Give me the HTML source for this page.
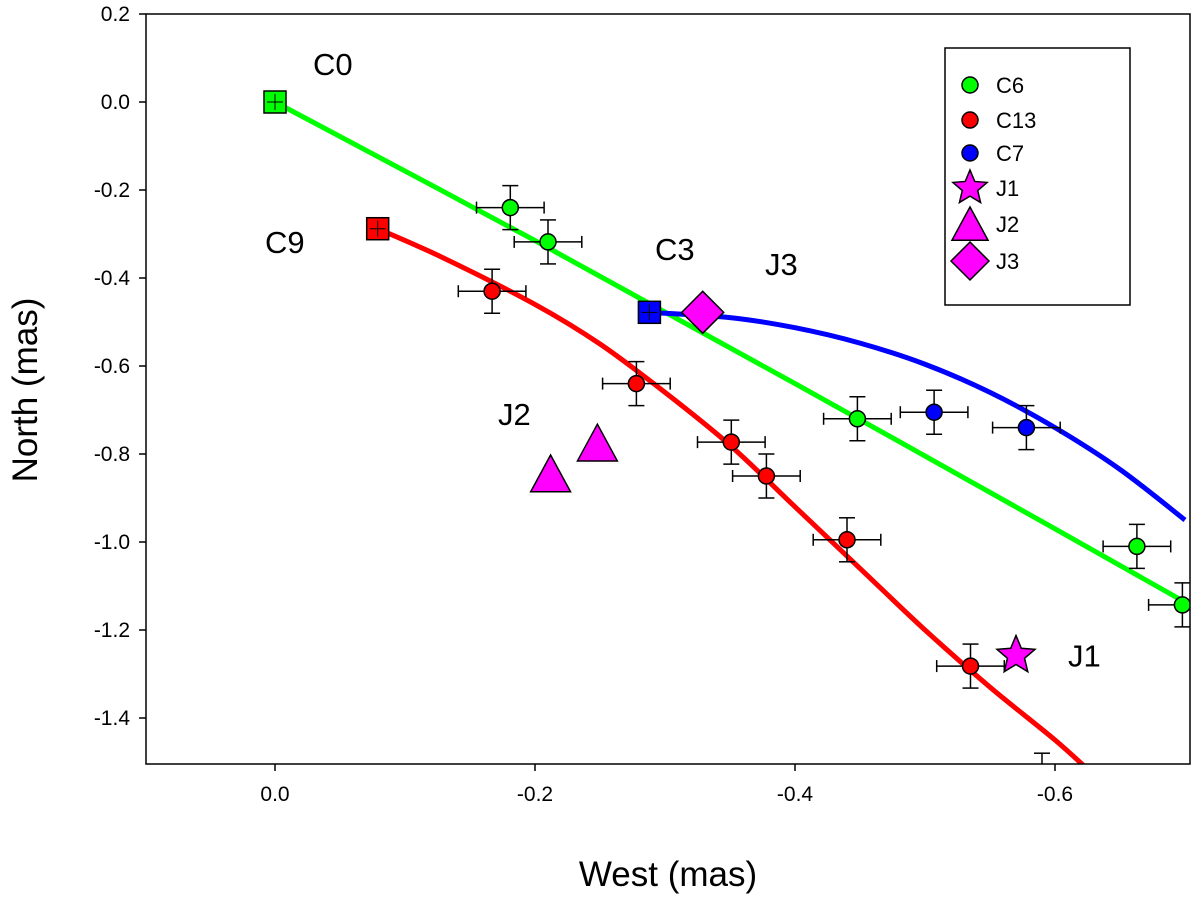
<!DOCTYPE html>
<html><head><meta charset="utf-8"><style>
body{margin:0;background:#fff;}
svg{display:block;font-family:"Liberation Sans",Arial,sans-serif;}
</style></head><body>
<svg id="chart" width="1200" height="897" viewBox="0 0 1200 897" xmlns="http://www.w3.org/2000/svg"></svg>
<script>
const xTicks=[0.0,-0.2,-0.4,-0.6];
const xTickLabels=["0.0","-0.2","-0.4","-0.6"];
const yTicks=[0.2,0.0,-0.2,-0.4,-0.6,-0.8,-1.0,-1.2,-1.4];
const yTickLabels=["0.2","0.0","-0.2","-0.4","-0.6","-0.8","-1.0","-1.2","-1.4"];
const c6X=[-0.181,-0.21,-0.448,-0.663,-0.698];
const c6Y=[-0.24,-0.318,-0.72,-1.01,-1.143];
const c13X=[-0.167,-0.278,-0.351,-0.378,-0.44,-0.535,-0.59];
const c13Y=[-0.43,-0.64,-0.773,-0.85,-0.995,-1.282,-1.53];
const c7X=[-0.507,-0.578];
const c7Y=[-0.705,-0.74];
const c0=[0,0], c9=[-0.079,-0.288], c3=[-0.288,-0.478];
const j1=[-0.57,-1.258];
const j2X=[-0.212,-0.248]; const j2Y=[-0.85,-0.78];
const j3=[-0.329,-0.478];
const greenCurveX=[0,-0.2,-0.4,-0.6,-0.72];
const greenCurveY=[0,-0.315,-0.64,-0.97,-1.17];
const redCurveX=[-0.079,-0.13,-0.2,-0.25,-0.3,-0.35,-0.4,-0.45,-0.5,-0.55,-0.6,-0.63];
const redCurveY=[-0.288,-0.355,-0.46,-0.55,-0.66,-0.78,-0.92,-1.06,-1.2,-1.33,-1.45,-1.53];
const blueCurveX=[-0.288,-0.35,-0.4,-0.45,-0.5,-0.55,-0.6,-0.65,-0.7];
const blueCurveY=[-0.478,-0.49,-0.513,-0.548,-0.596,-0.66,-0.74,-0.835,-0.95];
const xErr=0.026, yErr=0.05;

const L=146,R=1190,T=14,B=764;
const X=v=>275-v*1300;
const Y=v=>102-v*440;
const svg=document.getElementById('chart');
const NS='http://www.w3.org/2000/svg';
function mk(tag,attrs,parent){const e=document.createElementNS(NS,tag);for(const k in attrs)e.setAttribute(k,attrs[k]);(parent||svg).appendChild(e);return e;}
const defs=mk('defs',{});
const cp=mk('clipPath',{id:'clip'},defs);mk('rect',{x:L,y:T,width:R-L,height:B-T},cp);
const plot=mk('g',{'clip-path':'url(#clip)'});



const fr=mk('rect',{x:L,y:T,width:R-L,height:B-T,fill:'none',stroke:'#000','stroke-width':1.5});


xTicks.forEach((v,i)=>{
 mk('line',{x1:X(v),x2:X(v),y1:B,y2:B+7,stroke:'#000','stroke-width':1.5});
 const t=mk('text',{x:X(v),y:B+37,'text-anchor':'middle','font-size':21});t.textContent=xTickLabels[i];
 
 
});
yTicks.forEach((v,i)=>{
 mk('line',{x1:L-7,x2:L,y1:Y(v),y2:Y(v),stroke:'#000','stroke-width':1.5});
 const t=mk('text',{x:L-16,y:Y(v)+7,'text-anchor':'end','font-size':21});t.textContent=yTickLabels[i];
 
 
});
const xt=mk('text',{x:668,y:886,'text-anchor':'middle','font-size':35});xt.textContent='West (mas)';


const yt=mk('text',{x:0,y:0,'text-anchor':'middle','font-size':35,transform:'translate(37,390) rotate(-90)'});yt.textContent='North (mas)';



function curve(xs,ys,col,name){
 const P=xs.map((x,i)=>[X(x),Y(ys[i])]);
 let d='M'+P[0][0]+','+P[0][1];
 for(let i=0;i<P.length-1;i++){
  const p0=P[i-1]||P[i],p1=P[i],p2=P[i+1],p3=P[i+2]||P[i+1];
  const c1=[p1[0]+(p2[0]-p0[0])/6,p1[1]+(p2[1]-p0[1])/6];
  const c2=[p2[0]-(p3[0]-p1[0])/6,p2[1]-(p3[1]-p1[1])/6];
  d+=` C${c1[0]},${c1[1]} ${c2[0]},${c2[1]} ${p2[0]},${p2[1]}`;
 }
 const p=mk('path',{d:d,fill:'none',stroke:col,'stroke-width':5,'stroke-linejoin':'round'},plot);
 
 
}
curve(greenCurveX,greenCurveY,'#00ff00','c6-trajectory');
curve(redCurveX,redCurveY,'#ff0000','c13-trajectory');
curve(blueCurveX,blueCurveY,'#0000ff','c7-trajectory');

function errbar(x,y){
 const g=mk('g',{stroke:'#000','stroke-width':1.5},plot);
 const x1=X(x+xErr),x2=X(x-xErr),y1=Y(y+yErr),y2=Y(y-yErr),cx=X(x),cy=Y(y);
 mk('line',{x1:x1,x2:x2,y1:cy,y2:cy},g);mk('line',{x1:cx,x2:cx,y1:y1,y2:y2},g);
 mk('line',{x1:x1,x2:x1,y1:cy-6,y2:cy+6},g);mk('line',{x1:x2,x2:x2,y1:cy-6,y2:cy+6},g);
 mk('line',{x1:cx-8,x2:cx+8,y1:y1,y2:y1},g);mk('line',{x1:cx-8,x2:cx+8,y1:y2,y2:y2},g);
}
function dot(x,y,col,name){
 const c=mk('circle',{cx:X(x),cy:Y(y),r:8,fill:col,stroke:'#000','stroke-width':1.5},plot);
 
 
}
function sq(x,y,col,name){
 const cx=X(x),cy=Y(y);
 const r=mk('rect',{x:cx-11,y:cy-11,width:22,height:22,fill:col,stroke:'#000','stroke-width':1.5},plot);
 
 
 mk('line',{x1:cx-8,x2:cx+8,y1:cy,y2:cy,stroke:'#000','stroke-width':1},plot);
 mk('line',{x1:cx,x2:cx,y1:cy-8,y2:cy+8,stroke:'#000','stroke-width':1},plot);
}
c6X.forEach((x,i)=>{errbar(x,c6Y[i]);dot(x,c6Y[i],'#00ff00','c6-point');});
c13X.forEach((x,i)=>{errbar(x,c13Y[i]);dot(x,c13Y[i],'#ff0000','c13-point');});
c7X.forEach((x,i)=>{errbar(x,c7Y[i]);dot(x,c7Y[i],'#0000ff','c7-point');});
sq(c0[0],c0[1],'#00ff00','c0-marker');
sq(c9[0],c9[1],'#ff0000','c9-marker');
sq(c3[0],c3[1],'#0000ff','c3-marker');

function star(cx,cy,r,parent,name){
 let pts=[];for(let i=0;i<10;i++){const a=-Math.PI/2+i*Math.PI/5;const rr=i%2?r*0.45:r;pts.push((cx+rr*Math.cos(a))+','+(cy+rr*Math.sin(a)));}
 const p=mk('polygon',{points:pts.join(' '),fill:'#ff00ff',stroke:'#000','stroke-width':1.5},parent);
 
 
}
function tri(cx,cy,r,parent,name){
 const p=mk('polygon',{points:`${cx},${cy-r} ${cx+r*0.95},${cy+r*0.75} ${cx-r*0.95},${cy+r*0.75}`,fill:'#ff00ff',stroke:'#000','stroke-width':1.5},parent);
 
 
}
function dia(cx,cy,r,parent,name){
 const p=mk('polygon',{points:`${cx},${cy-r} ${cx+r},${cy} ${cx},${cy+r} ${cx-r},${cy}`,fill:'#ff00ff',stroke:'#000','stroke-width':1.5},parent);
 
 
}
star(X(j1[0]),Y(j1[1]),20,plot,'j1-marker');
j2X.forEach((x,i)=>tri(X(x),Y(j2Y[i]),21,plot,'j2-marker'));
dia(X(j3[0]),Y(j3[1]),21,plot,'j3-marker');

const labels=[['C0',313,75],['C9',265,253],['C3',655,260],['J3',765,275],['J2',498,425],['J1',1068,Y(-1.258)+11]];
labels.forEach(l=>{
 const t=mk('text',{x:l[1],y:l[2],'font-size':31});
 t.textContent=l[0];
 
 
});

const lg=mk('g',{});


mk('rect',{x:945,y:48,width:185,height:257,fill:'#fff',stroke:'#000','stroke-width':1.5},lg);
const legNames=['C6','C13','C7','J1','J2','J3'];
const legY=[85,120,153,188,224,261];
legNames.forEach((n,i)=>{
 const y=legY[i],x=970;
 if(i<3){const c=mk('circle',{cx:x,cy:y,r:8,fill:['#00ff00','#ff0000','#0000ff'][i],stroke:'#000','stroke-width':1.5},lg);
  
  }
 else if(i===3) star(x,y,18,lg,'legend-marker-j1');
 else if(i===4) tri(x,y+2,19,lg,'legend-marker-j2');
 else dia(x,y,19,lg,'legend-marker-j3');
 const t=mk('text',{x:996,y:y+8,'font-size':22},lg);t.textContent=n;
 
 
});
</script>
</body></html>
